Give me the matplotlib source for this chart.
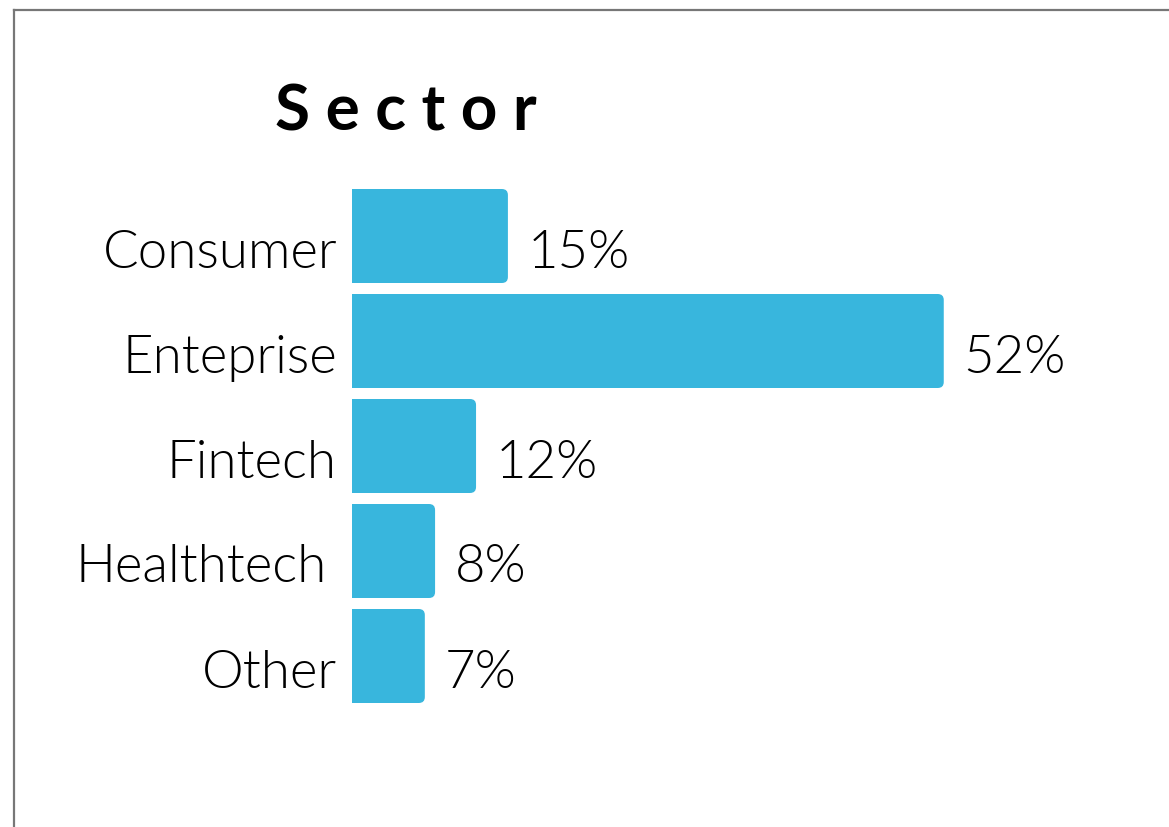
import matplotlib
matplotlib.use("Agg")
import matplotlib.pyplot as plt
from matplotlib.patches import FancyBboxPatch
from matplotlib.lines import Line2D

# data
sectors = ["Consumer", "Enteprise", "Fintech", "Healthtech", "Other"]
pct_labels = ["15%", "52%", "12%", "8%", "7%"]
bar_len = [13.7, 52.0, 10.9, 7.3, 6.4]   # drawn lengths, in percent

BLUE = "#38b6dd"
FONT = ["Lato", "DejaVu Sans"]

W, H = 1169, 827
fig = plt.figure(figsize=(W / 100, H / 100), dpi=100)
ax = fig.add_axes([352 / W, 1 - 708.5 / H, 748 / W, 525 / H])
ax.set_xlim(0, 748 / 11.38)
ax.set_ylim(len(sectors) - 0.5, -0.5)
ax.axis("off")

bars = ax.barh(range(len(sectors)), bar_len, height=0.895, color=BLUE)

# round the right end of each bar
px_x = 11.38           # px per x unit
px_y = 105.0           # px per y unit
r = 6 / px_x
for b in bars:
    x0, y0, w, h = b.get_x(), b.get_y(), b.get_width(), b.get_height()
    b.set_width(w - r)
    ax.add_patch(FancyBboxPatch((x0, y0), w, h,
                                boxstyle=f"round,pad=0,rounding_size={r}",
                                mutation_aspect=px_x / px_y,
                                fc=BLUE, ec="none"))

label_shift = [-15, -15, -15, -25, -15]
for i, name in enumerate(sectors):
    ax.annotate(name, xy=(0, i), xytext=(label_shift[i], -17),
                textcoords="offset pixels", ha="right", va="center",
                fontsize=38, family=FONT, fontweight=300)
    ax.annotate(pct_labels[i], xy=(bar_len[i], i), xytext=(20, -17),
                textcoords="offset pixels", ha="left", va="center",
                fontsize=38, family=FONT, fontweight=300)

fig.text(406 / W, 1 - 112 / H, "S e c t o r", ha="center", va="center",
         fontsize=46, fontweight="bold", family=FONT)

# frame lines on the left and top
fig.add_artist(Line2D([14 / W, 14 / W], [0, 1 - 10 / H], color="#777777", lw=1.6))
fig.add_artist(Line2D([14 / W, 1], [1 - 10 / H, 1 - 10 / H], color="#777777", lw=1.6))

fig.savefig("out.png", dpi=100)
